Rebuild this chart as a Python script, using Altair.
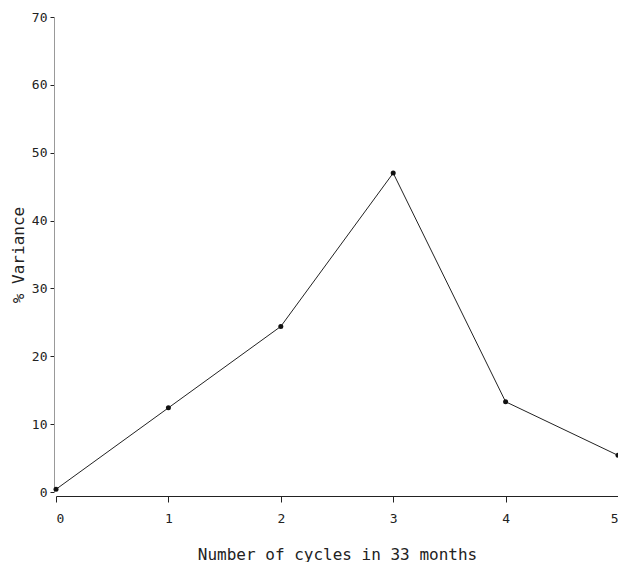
import altair as alt
import pandas as pd

cycles = [0, 1, 2, 3, 4, 5]
variance = [0.4, 12.4, 24.4, 47.0, 13.3, 5.4]

df = pd.DataFrame({"cycles": cycles, "variance": variance})

font = "DejaVu Sans Mono"

x = alt.X("cycles:Q", title="Number of cycles in 33 months",
          scale=alt.Scale(domain=[0, 5], nice=False, zero=False),
          axis=alt.Axis(values=cycles, format="d", offset=4, grid=False,
                        tickSize=6, labelPadding=10, labelFontSize=13,
                        titleFontSize=16, titleFontWeight="normal",
                        titlePadding=21, domainColor="#222", tickColor="#222"))
y = alt.Y("variance:Q", title="% Variance",
          scale=alt.Scale(domain=[0, 70], nice=False),
          axis=alt.Axis(values=[0, 10, 20, 30, 40, 50, 60, 70], offset=2, grid=False,
                        tickSize=4, labelPadding=3, labelFontSize=13,
                        titleFontSize=16, titleFontWeight="normal",
                        titlePadding=5, domainColor="#999", tickColor="#222"))

line = alt.Chart(df).mark_line(color="#222", strokeWidth=1).encode(x=x, y=y)
pts = alt.Chart(df).mark_point(filled=True, color="#111", size=25, opacity=1).encode(x=x, y=y)

chart = (line + pts).properties(
    width=562, height=475,
    autosize=alt.AutoSizeParams(type="none"),
    padding={"left": 48, "top": 9, "right": 0, "bottom": 70},
).configure_view(stroke=None).configure_axis(
    labelFont=font, titleFont=font, labelColor="#222", titleColor="#222"
)

chart.save("out.html", embed_options={"renderer": "svg", "actions": False})
